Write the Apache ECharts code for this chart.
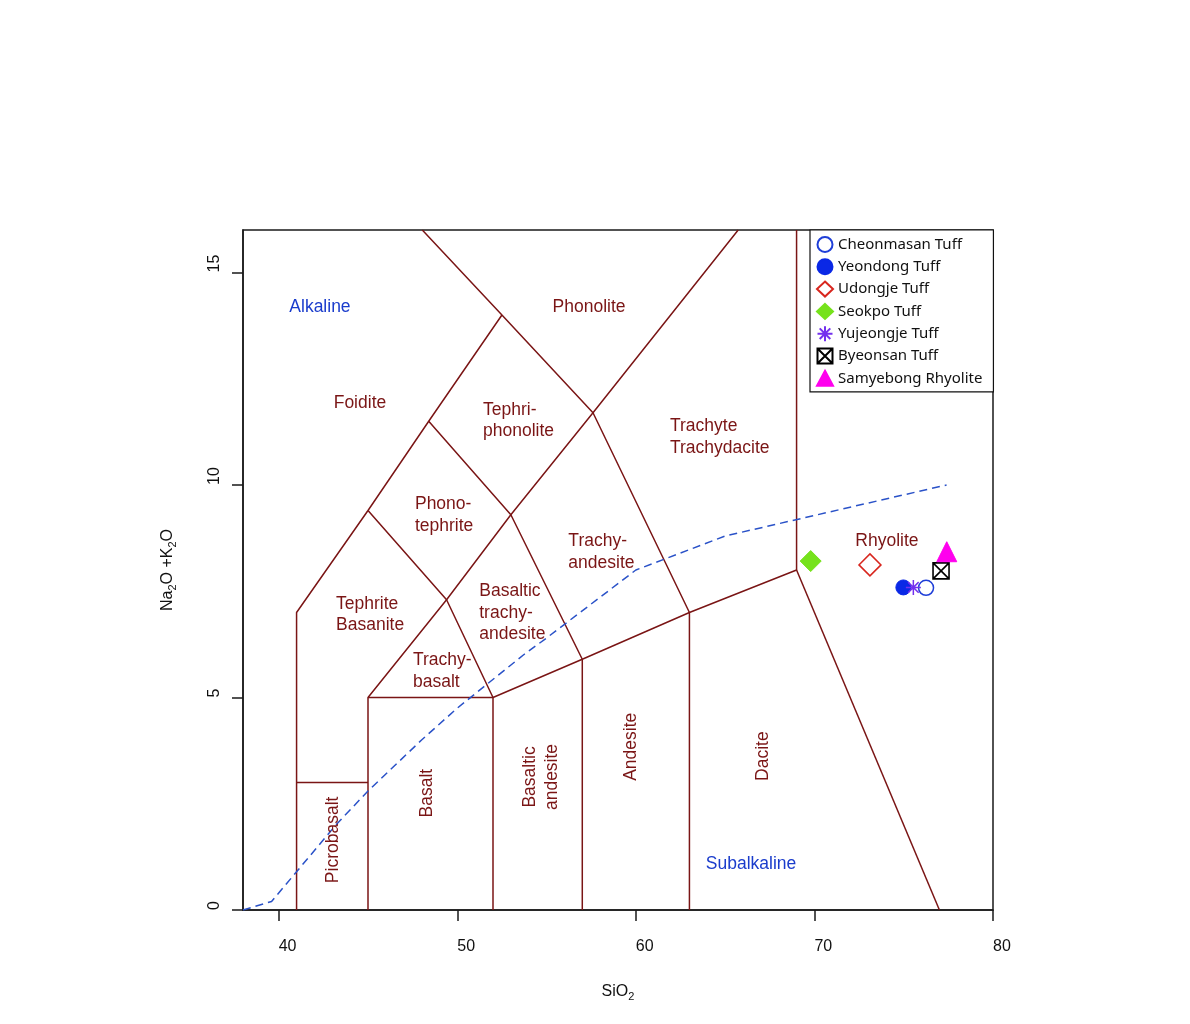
<!DOCTYPE html>
<html>
<head>
<meta charset="utf-8">
<script src="https://cdn.jsdelivr.net/npm/echarts@6/dist/echarts.min.js"></script>
<style>
html,body{margin:0;padding:0;background:#fff;}
#chart{width:1190px;height:1024px;}
</style>
</head>
<body>
<div id="chart"></div>
<script>
// ---------- axes ----------
const xRange = [38, 80];
const yRange = [0, 16];
const xTicks = [40, 50, 60, 70, 80];
const yTicks = [0, 5, 10, 15];

// ---------- TAS field boundaries (SiO2, Na2O+K2O) ----------
const boundaryA = [[41,0],[41,7],[45,9.4],[48.4,11.5],[52.5,14]];
const boundaryB = [[48.04,16],[52.5,14],[57.6,11.7],[63,7],[63,0]];
const boundaryC = [[45,0],[45,5],[49.4,7.3],[53,9.3],[57.6,11.7],[65.73,16]];
const boundaryD = [[41,3],[45,3]];
const boundaryE = [[45,5],[52,5],[57,5.9],[63,7],[69,8],[69,16]];
const boundaryF = [[45,9.4],[49.4,7.3],[52,5],[52,0]];
const boundaryG = [[48.4,11.5],[53,9.3],[57,5.9],[57,0]];
const boundaryH = [[69,8],[77.0,0]];

// Irvine & Baragar alkaline / subalkaline divide
const ibX = [38, 39.6, 40, 43.2, 45, 48, 50, 53.7, 55, 60, 65, 77.4];
const ibY = [0, 0.2, 0.4, 2, 2.8, 4, 4.75, 6, 6.4, 8, 8.8, 10];

// ---------- samples ----------
const sampleNames = ['Cheonmasan Tuff','Yeondong Tuff','Udongje Tuff','Seokpo Tuff','Yujeongje Tuff','Byeonsan Tuff','Samyebong Rhyolite'];
const sampleSiO2 = [76.25, 74.98, 73.11, 69.79, 75.54, 77.09, 77.41];
const sampleAlk  = [7.58, 7.59, 8.12, 8.21, 7.59, 7.98, 8.43];

// ---------- field labels ----------
const leftLabelText = ['Tephri-\nphonolite','Trachyte\nTrachydacite','Phono-\ntephrite','Tephrite\nBasanite','Trachy-\nbasalt','Basaltic\ntrachy-\nandesite','Trachy-\nandesite'];
const leftLabelX = [51.44, 61.91, 47.63, 43.21, 47.52, 51.23, 56.22];
const leftLabelY = [11.51, 11.12, 9.29, 6.95, 5.62, 6.99, 8.42];

const centerLabelText = ['Foidite','Phonolite','Rhyolite'];
const centerLabelX = [44.55, 57.38, 74.06];
const centerLabelY = [11.93, 14.19, 8.68];

const vertLabelText = ['Picrobasalt','Basalt','Basaltic\nandesite','Andesite','Dacite'];
const vertLabelX = [43.07, 48.29, 54.69, 59.76, 67.14];
const vertLabelY = [1.65, 2.75, 3.13, 3.84, 3.62];

const seriesLabelText = ['Alkaline','Subalkaline'];
const seriesLabelX = [42.31, 66.45];
const seriesLabelY = [14.19, 1.08];

// ---------- styling ----------
const DARKRED = '#7a1515';
const BLUE_TXT = '#1a3ccc';
const FONT = '"Liberation Sans", Arial, sans-serif';

const boundaries = [boundaryA, boundaryB, boundaryC, boundaryD, boundaryE, boundaryF, boundaryG, boundaryH];

const series = [];
boundaries.forEach(function (b, i) {
  series.push({
    type: 'line', name: 'b' + i, data: b, symbol: 'none', silent: true,
    lineStyle: {color: DARKRED, width: 1.5}, z: 2
  });
});
series.push({
  type: 'line', name: 'ib', data: ibX.map(function (x, i) { return [x, ibY[i]]; }),
  symbol: 'none', silent: true,
  lineStyle: {color: '#2a52c8', width: 1.5, type: [8, 5]}, z: 2
});

function labelSeries(name, texts, xs, ys, label) {
  return {
    type: 'scatter', name: name, symbolSize: 0, silent: true, z: 3,
    itemStyle: {opacity: 1},
    data: texts.map(function (t, i) { return {name: t, value: [xs[i], ys[i]]}; }),
    label: Object.assign({show: true, position: 'inside', formatter: '{b}', fontFamily: FONT, opacity: 1}, label)
  };
}
series.push(labelSeries('lab1', leftLabelText, leftLabelX, leftLabelY,
  {align: 'left', verticalAlign: 'middle', color: DARKRED, fontSize: 17.5, lineHeight: 21.5}));
series.push(labelSeries('lab2', centerLabelText, centerLabelX, centerLabelY,
  {align: 'center', verticalAlign: 'middle', color: DARKRED, fontSize: 17.5, lineHeight: 21.5}));
series.push(labelSeries('lab3', vertLabelText, vertLabelX, vertLabelY,
  {align: 'center', verticalAlign: 'middle', color: DARKRED, fontSize: 17.5, lineHeight: 22, rotate: 90}));
series.push(labelSeries('lab4', seriesLabelText, seriesLabelX, seriesLabelY,
  {align: 'center', verticalAlign: 'middle', color: BLUE_TXT, fontSize: 17.5}));

const ASTERISK = 'path://M0,-10L0,10M-10,0L10,0M-7.07,-7.07L7.07,7.07M-7.07,7.07L7.07,-7.07';
const BOXX = 'path://M0,0L10,0L10,10L0,10ZM0,0L10,10M10,0L0,10';

const sampleStyles = [
  {symbol: 'circle', size: 15, itemStyle: {color: '#ffffff', borderColor: '#1f3fd8', borderWidth: 1.5, opacity: 1}},
  {symbol: 'circle', size: 15, itemStyle: {color: '#0a28e6', borderColor: '#0a28e6', borderWidth: 1, opacity: 1}},
  {symbol: 'diamond', size: 22, itemStyle: {color: '#ffffff', borderColor: '#d8261e', borderWidth: 1.5, opacity: 1}},
  {symbol: 'diamond', size: 21, itemStyle: {color: '#76e21c', borderColor: '#76e21c', borderWidth: 1, opacity: 1}},
  {symbol: ASTERISK, size: 15, itemStyle: {color: 'rgba(0,0,0,0)', borderColor: '#7330ee', borderWidth: 1.5, opacity: 1}},
  {symbol: BOXX, size: 16, itemStyle: {color: '#ffffff', borderColor: '#000000', borderWidth: 1.6, opacity: 1}},
  {symbol: 'triangle', size: 20, itemStyle: {color: '#ff00ee', borderColor: '#ff00ee', borderWidth: 1, opacity: 1}}
];

sampleNames.forEach(function (n, i) {
  const st = sampleStyles[i];
  series.push({
    type: 'scatter', name: n, z: 5,
    data: [[sampleSiO2[i], sampleAlk[i]]],
    symbol: st.symbol, symbolSize: st.size,
    itemStyle: st.itemStyle
  });
});

const chart = echarts.init(document.getElementById('chart'), null, {renderer: 'canvas'});
chart.setOption({
  animation: false,
  backgroundColor: '#ffffff',
  textStyle: {fontFamily: FONT},
  grid: {left: 243, top: 230, width: 750, height: 680, show: true, borderColor: '#1a1a1a', borderWidth: 1.5, backgroundColor: 'transparent'},
  legend: {
    data: sampleNames.map(function (n) { return {name: n}; }),
    orient: 'vertical', left: 810, top: 230,
    padding: [6, 11, 5, 6], itemGap: 5.3, itemWidth: 16, itemHeight: 15,
    backgroundColor: '#ffffff', borderColor: '#111', borderWidth: 1.2,
    textStyle: {fontFamily: '"Noto Sans", sans-serif', fontSize: 15, color: '#111'},
    selectedMode: false, z: 10
  },
  xAxis: {
    type: 'value', min: xRange[0], max: xRange[1],
    name: '{n|SiO}{s|2}', nameLocation: 'middle', nameGap: 72,
    nameTextStyle: {rich: {
      n: {fontFamily: FONT, fontSize: 16, color: '#111', lineHeight: 20},
      s: {fontFamily: FONT, fontSize: 11, color: '#111', lineHeight: 20, verticalAlign: 'bottom', padding: [10, 0, 0, 0]}
    }},
    axisLine: {show: true, lineStyle: {color: '#1a1a1a', width: 1.5}},
    axisTick: {show: true, length: 11, customValues: xTicks, lineStyle: {color: '#1a1a1a', width: 1.5}},
    axisLabel: {customValues: xTicks, align: 'left', verticalAlign: 'top', margin: 29, fontSize: 16, color: '#111', fontFamily: FONT},
    splitLine: {show: false}
  },
  yAxis: {
    type: 'value', min: yRange[0], max: yRange[1],
    name: '{n|Na}{s|2}{n|O +K}{s|2}{n|O}', nameLocation: 'middle', nameGap: 65, nameRotate: 90,
    nameTextStyle: {rich: {
      n: {fontFamily: FONT, fontSize: 16, color: '#111', lineHeight: 20},
      s: {fontFamily: FONT, fontSize: 11, color: '#111', lineHeight: 20, verticalAlign: 'bottom', padding: [10, 0, 0, 0]}
    }},
    axisLine: {show: true, lineStyle: {color: '#1a1a1a', width: 1.5}},
    axisTick: {show: true, length: 11, customValues: yTicks, lineStyle: {color: '#1a1a1a', width: 1.5}},
    axisLabel: {customValues: yTicks, rotate: 90, align: 'left', verticalAlign: 'middle', margin: 28, fontSize: 16, color: '#111', fontFamily: FONT},
    splitLine: {show: false}
  },
  series: series
});
</script>
</body>
</html>
